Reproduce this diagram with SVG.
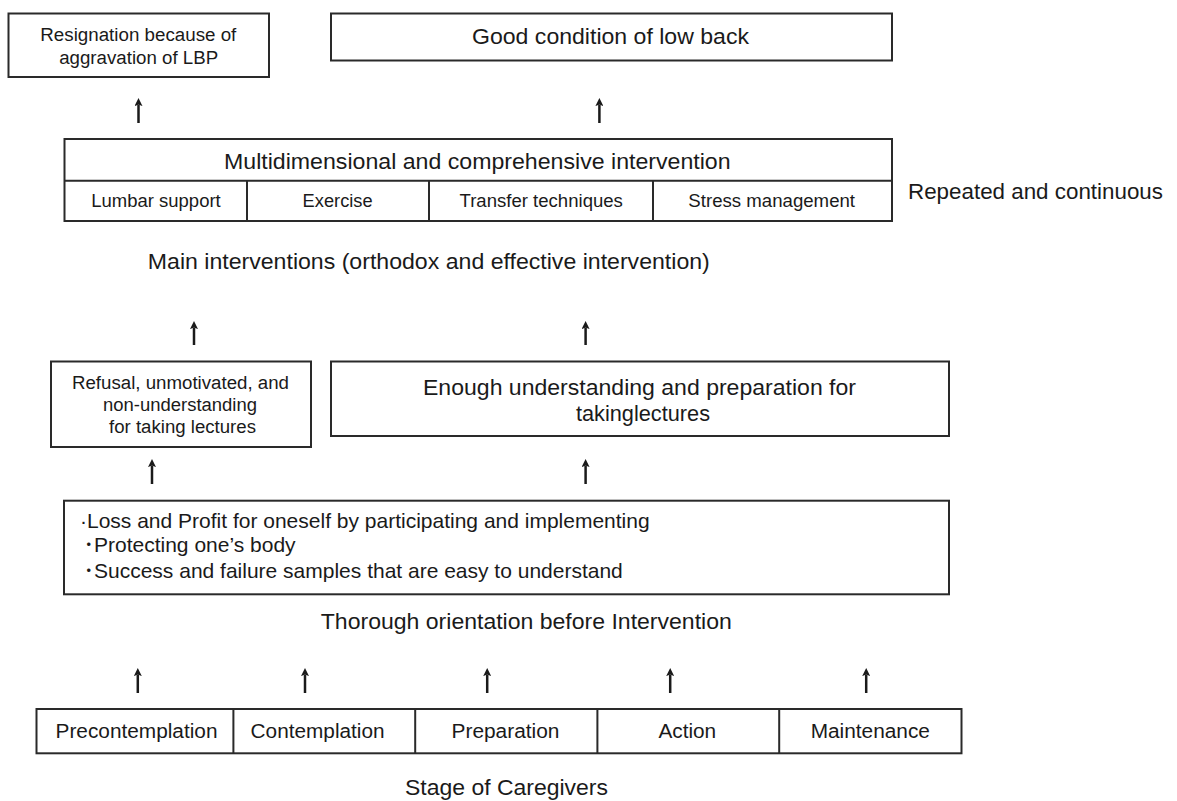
<svg xmlns="http://www.w3.org/2000/svg" width="1177" height="801" viewBox="0 0 1177 801">
<style>
.box{fill:#fff;stroke:#2a2a2a;stroke-width:2}
.div{stroke:#2a2a2a;stroke-width:2;fill:none}
text{font-family:"Liberation Sans","Noto Sans CJK JP",Arial,sans-serif;fill:#1a1a1a}
.c{text-anchor:middle}
.big{font-size:22px}
.mid{font-size:20px}
.ori{font-size:21px}
.sm{font-size:18px}
.xs{font-size:17.5px}
.arr{stroke:#1a1a1a;stroke-width:2.5;fill:none;marker-end:url(#ah)}
</style>
<defs>
<marker id="ah" viewBox="0 0 10 10" refX="2" refY="5" markerWidth="8" markerHeight="8" markerUnits="userSpaceOnUse" orient="auto">
<path d="M0,0 L10,5 L0,10 L2,5 Z" fill="#1a1a1a"/>
</marker>
</defs>
<rect width="1177" height="801" fill="#fff"/>

<g id="resignation">
<rect class="box" x="8.5" y="13.5" width="260.5" height="63.5"/>
<text class="c sm" x="138.3" y="40.5" textLength="196" lengthAdjust="spacingAndGlyphs">Resignation because of</text>
<text class="c sm" x="138.7" y="64.3" textLength="159" lengthAdjust="spacingAndGlyphs">aggravation of LBP</text>
</g>

<g id="good-condition">
<rect class="box" x="331" y="13.5" width="561" height="47"/>
<text class="c big" x="610.5" y="44.3" textLength="277" lengthAdjust="spacingAndGlyphs">Good condition of low back</text>
</g>

<g id="multidimensional">
<rect class="box" x="64.5" y="139" width="827.5" height="82"/>
<path class="div" d="M64.5,180.7 H892 M247,180.7 V221 M429,180.7 V221 M653,180.7 V221"/>
<text class="c big" x="477.3" y="169.3" textLength="506.6" lengthAdjust="spacingAndGlyphs">Multidimensional and comprehensive intervention</text>
<text class="c xs" x="156" y="207.3" textLength="129.4" lengthAdjust="spacingAndGlyphs">Lumbar support</text>
<text class="c xs" x="337.6" y="207.3" textLength="70" lengthAdjust="spacingAndGlyphs">Exercise</text>
<text class="c xs" x="541.2" y="207.3" textLength="163.4" lengthAdjust="spacingAndGlyphs">Transfer techniques</text>
<text class="c xs" x="771.7" y="207.3" textLength="166.7" lengthAdjust="spacingAndGlyphs">Stress management</text>
</g>

<g id="repeated-label">
<text class="c big" x="1035.5" y="199" textLength="255" lengthAdjust="spacingAndGlyphs">Repeated and continuous</text>
</g>

<g id="main-label">
<text class="c big" x="428.8" y="268.5" textLength="562" lengthAdjust="spacingAndGlyphs">Main interventions (orthodox and effective intervention)</text>
</g>

<g id="refusal">
<rect class="box" x="51" y="361.5" width="260" height="85.5"/>
<text class="c sm" x="180.5" y="388.5" textLength="217" lengthAdjust="spacingAndGlyphs">Refusal, unmotivated, and</text>
<text class="c sm" x="180" y="410.5" textLength="154" lengthAdjust="spacingAndGlyphs">non-understanding</text>
<text class="c sm" x="182.5" y="432.5" textLength="147" lengthAdjust="spacingAndGlyphs">for taking lectures</text>
</g>

<g id="enough">
<rect class="box" x="331" y="361.5" width="618" height="74.5"/>
<text class="c big" x="639.5" y="395" textLength="433" lengthAdjust="spacingAndGlyphs">Enough understanding and preparation for</text>
<text class="c big" x="643" y="421" textLength="134" lengthAdjust="spacingAndGlyphs">takinglectures</text>
</g>

<g id="orientation">
<rect class="box" x="64" y="500.7" width="885" height="93.6"/>
<text class="ori" x="80" y="527.5">·Loss and Profit for oneself by participating and implementing</text>
<text class="ori" x="83.5" y="552">･Protecting one’s body</text>
<text class="ori" x="83.5" y="577.5">･Success and failure samples that are easy to understand</text>
</g>

<g id="orientation-label">
<text class="c big" x="526.3" y="629.3" textLength="411" lengthAdjust="spacingAndGlyphs">Thorough orientation before Intervention</text>
</g>

<g id="stages">
<rect class="box" x="36.5" y="709" width="925" height="44.3"/>
<path class="div" d="M233.4,709 V753.3 M415.2,709 V753.3 M597.4,709 V753.3 M779.2,709 V753.3"/>
<text class="c mid" x="136.5" y="738.3" textLength="162" lengthAdjust="spacingAndGlyphs">Precontemplation</text>
<text class="c mid" x="317.6" y="738.3" textLength="134" lengthAdjust="spacingAndGlyphs">Contemplation</text>
<text class="c mid" x="505.5" y="738.3" textLength="108" lengthAdjust="spacingAndGlyphs">Preparation</text>
<text class="c mid" x="687.3" y="738.3" textLength="57.8" lengthAdjust="spacingAndGlyphs">Action</text>
<text class="c mid" x="870.3" y="738.3" textLength="119.3" lengthAdjust="spacingAndGlyphs">Maintenance</text>
</g>

<g id="stage-label">
<text class="c big" x="506.5" y="795" textLength="203" lengthAdjust="spacingAndGlyphs">Stage of Caregivers</text>
</g>

<g id="connectors">
<line class="arr" x1="138.5" y1="123" x2="138.5" y2="104.5"/>
<line class="arr" x1="599.4" y1="123" x2="599.4" y2="104.5"/>
<line class="arr" x1="194" y1="345" x2="194" y2="327.5"/>
<line class="arr" x1="585.6" y1="345" x2="585.6" y2="327.5"/>
<line class="arr" x1="152" y1="484" x2="152" y2="465.5"/>
<line class="arr" x1="585.6" y1="484" x2="585.6" y2="465.5"/>
<line class="arr" x1="137.8" y1="693" x2="137.8" y2="674.5"/>
<line class="arr" x1="305" y1="693" x2="305" y2="674.5"/>
<line class="arr" x1="487.2" y1="693" x2="487.2" y2="674.5"/>
<line class="arr" x1="670.2" y1="693" x2="670.2" y2="674.5"/>
<line class="arr" x1="866.2" y1="693" x2="866.2" y2="674.5"/>
</g>
</svg>
